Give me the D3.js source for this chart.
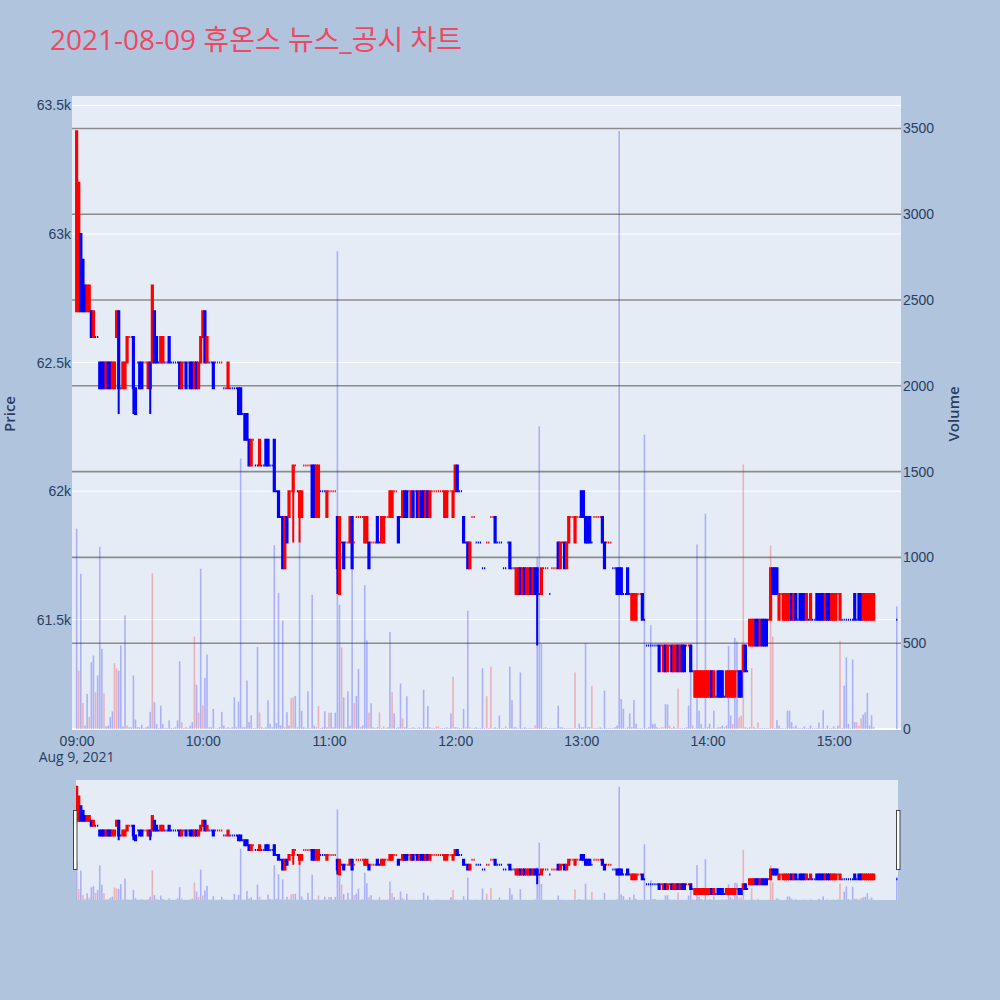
<!DOCTYPE html>
<html>
<head>
<meta charset="utf-8">
<script src="https://d3js.org/d3.v7.min.js"></script>
<style>
  body { margin: 0; background: #b0c4de; }
  svg { display: block; font-family: "Open Sans", "Noto Sans CJK KR", sans-serif; }
</style>
</head>
<body>
<script>
// one token per minute, prices in units of 100 won
// "open close" or "open close high low", a single price for a flat minute, "" for no trade
const candles0900 = [
  "627 634","627 632","630 627","629 627","628 627","627 628","627 628","627 626","626 627","626",
  "626","625 624","625 624","625 624","624 625","625 624","625 624","624 625","624 625","626 627",
  "627 624 627 623","624","624 625","624 625","625 626","626","626","626 624 626 623","624 623","625",
  "625 624","625 624","625","625","624 625","625 624 625 623","625 628","627 625","626 625","625",
  "625 626","625 626","625","625","626 625","625","625","625","625","625 624",
  "624 625","625","625 624","625","625 624","625 624","624 625","625 624","624 625","625 626"
];
const candles1000 = [
  "626 627","627 625","625 626","625","625","625 624","625","625","625","625",
  "624","624","624 625","624","624","624","624","624 623","624 623","623",
  "623 622","623 622","622 621","621 622","622","621","621","621 622","621","621",
  "622 621","622 621","621","621","622 620","620","620 619","619","619 617","617 619",
  "619 618","619 620","620","620 621 621 618","621","620","619 620 620 618","619 620","621","621",
  "621","621","621 619","621 619","619 621","619 621","620","620","620","619 620"
];
const candles1100 = [
  "620","620","620","620","619 617 619 616","616 619","618","618 617","618","618",
  "618 619","619 617","618","619","619","619","619","618 619","618 619","618 617",
  "618","618","618","619 618","618","618 619","618 619","619","619","619 620",
  "619 620","620","620","619 618","619","619 620","620 619","620 619","620","619 620",
  "620 619","620","620 619","619 620","620 619","620 619","619 620","620 619","619 620","620",
  "620","620","620","620","620","619 620","619 620","620","620","619 620"
];
const candles1200 = [
  "620 621","621 620","620","620","619 618","618","618 617","617 618","619","619",
  "618","618","618","617","617","618","618","619","619","619 618",
  "618","618","618","617","617","618","618 617","617","617","616 617",
  "616 617","617 616","616 617","617 616","616 617","616 617","617 616","616 617","617 616","617 616 617 614",
  "616","616 617","617","617","617","616","617","617","617","618 617",
  "617 618","618","618 617","617 618","618 619","619","619","618 619","619","619"
];
const candles1300 = [
  "620 619","620 619","619 618","619 618","619 618","618","619","619","619","619",
  "619 618","618 617","618","618","618","617","617","617 616","617 616","617 616",
  "616","616","617 616","616","615 616","615 616","615 616","616","616","616 615",
  "615","614","614","614","614","614","614","614 613","614","613 614",
  "614 613","613 614","614","614 613","613 614","613 614","614 613","613 614","614 613","614 613",
  "614","614","614 613","613","612 613","612 613","612 613","612 613","612 613","612 613"
];
const candles1400 = [
  "612 613","612 613","613 612","612 613","612","613 612","613 612","613 612","612","612 613",
  "612 613","612 613","612 613","612 613","613","613 612","613 612","613 614","614 613","613",
  "614 615","614 615","614 615","615 614","615 614","614 615","615 614","615 614","615 614","615",
  "615 617","617 616","617 616","617 616","615 616","616","615 616","615 616","615 616","615 616",
  "616 615","615 616","616 615","615","616 615","616 615","616 615","615 616","615","615 616",
  "615","615","616 615","616 615","616 615","616 615","615 616","616 615","616 615","615 616"
];
const candles1500 = [
  "615 616","615 616","616","615 616","615","615","615","615","615","615",
  "616 615","615","616 615","616 615","615 616","615 616","615 616","615 616","615 616","615 616",
  "","","","","","","","","","",
  "615"
];

// shares traded per minute
const volume0900 = [
  1167,340,904,152,20,204,70,389,428,214,
  311,1062,467,208,15,20,70,103,383,354,
  340,487,15,662,20,10,10,311,55,10,
  10,25,5,10,15,100,908,156,30,5,
  136,30,5,5,50,5,5,10,50,394,
  40,5,10,5,20,40,539,258,96,934
];
const volume1000 = [
  138,297,434,10,10,117,5,5,10,100,
  20,5,10,5,10,185,10,160,1577,10,
  10,282,40,80,5,5,478,97,10,5,
  10,168,30,10,1071,35,793,20,632,10,
  98,20,180,184,193,10,1157,106,10,5,
  219,5,782,20,10,134,5,10,103,10
];
const volume1100 = [
  95,95,10,95,2785,725,476,184,10,219,
  20,1079,150,193,350,10,20,838,516,95,
  150,10,5,10,97,5,15,5,10,565,
  214,91,5,10,265,62,10,191,5,5,
  10,5,5,10,5,228,10,134,10,5,
  5,15,15,5,5,5,10,5,91,304
];
const volume1200 = [
  10,10,5,5,117,10,690,10,5,5,
  10,5,5,354,5,191,5,364,5,10,
  5,78,5,5,15,5,364,168,10,10,
  5,330,5,10,5,5,5,5,20,1000,
  1764,496,5,10,5,5,5,5,5,136,
  10,10,5,5,5,5,5,330,5,30
];
const volume1300 = [
  10,10,500,10,10,252,5,5,5,10,
  5,224,5,5,5,5,10,20,3485,175,
  117,5,10,91,10,168,30,5,5,5,
  1716,5,10,605,30,30,10,5,10,10,
  145,143,20,5,15,5,236,5,5,5,
  10,136,492,20,5,1075,107,30,5,1255
];
const volume1400 = [
  10,30,5,107,5,10,10,20,10,20,
  484,78,30,531,510,68,78,1542,10,5,
  10,355,10,5,38,5,5,5,5,5,
  1069,538,5,53,20,5,5,5,107,107,
  40,10,20,5,5,5,15,5,5,20,
  5,5,5,38,5,110,5,20,5,5
];
const volume1500 = [
  15,5,20,514,5,253,418,30,5,405,
  40,40,20,62,84,97,210,20,80,10,
  0,0,0,0,0,0,0,0,0,0,
  715
];

// minutes (from 09:00) whose volume bar is drawn as buying (red)
const volumeUpMinutes = [
  1,3,6,9,13,18,19,24,36,50,56,58,60,66,87,99,102,103,115,120,
  126,132,139,144,146,150,155,171,172,179,185,187,195,197,204,218,237,245,278,279,
  282,286,293,308,312,315,316,317,321,324,330,331,363,371,372,373
];

const priceTicks = [61500, 62000, 62500, 63000, 63500];
const volumeTicks = [0, 500, 1000, 1500, 2000, 2500, 3000, 3500];
const hourTicks = [9, 10, 11, 12, 13, 14, 15];
const titleText = "2021-08-09 휴온스 뉴스_공시 차트";

const upColor = "#ff0000";
const downColor = "#0000ff";

// layout
let width = 1000, height = 1000;
let plotLeft = 72, plotRight = 901, plotTop = 96, plotBottom = 729;
let sliderLeft = 76, sliderRight = 898, sliderTop = 780, sliderBottom = 900;

let day = new Date(2021, 7, 9, 9, 0);

// build the minute rows
let tokens = [].concat(candles0900, candles1000, candles1100, candles1200, candles1300, candles1400, candles1500);
let volumes = [].concat(volume0900, volume1000, volume1100, volume1200, volume1300, volume1400, volume1500);
let upSet = new Set(volumeUpMinutes);

let data = [];
let prevClose = null, prevUp = true;
tokens.forEach(function (tok, i) {
    if (tok === "") return;
    let nums = tok.split(" ").map(function (d) { return +d * 100; });
    let o, c, h, l;
    if (nums.length === 1) {
        o = c = h = l = nums[0];
    } else {
        o = nums[0]; c = nums[1];
        h = nums.length > 2 ? nums[2] : Math.max(o, c);
        l = nums.length > 2 ? nums[3] : Math.min(o, c);
    }
    // flat minutes take their colour from the previous close, like plotly does
    let up;
    if (c > o) up = true;
    else if (c < o) up = false;
    else if (prevClose !== null && c !== prevClose) up = c > prevClose;
    else up = prevUp;
    data.push({
        t: new Date(day.getTime() + i * 60000),
        o: o, h: h, l: l, c: c, up: up,
        v: volumes[i], vUp: upSet.has(i)
    });
    prevClose = c; prevUp = up;
});

// scales
let x = d3.scaleTime()
    .domain([new Date(day.getTime() - 2.2 * 60000), new Date(day.getTime() + 392 * 60000)])
    .range([plotLeft, plotRight]);
let yPrice = d3.scaleLinear().domain([61075, 63537]).range([plotBottom, plotTop]);
let yVol = d3.scaleLinear().domain([0, 3689]).range([plotBottom, plotTop]);
let yPriceMini = d3.scaleLinear().domain(yPrice.domain()).range([sliderBottom, sliderTop]);
let yVolMini = d3.scaleLinear().domain(yVol.domain()).range([sliderBottom, sliderTop]);

let svg = d3.select("body").append("svg")
    .attr("width", width)
    .attr("height", height);

let defs = svg.append("defs");
defs.append("clipPath").attr("id", "clipMain")
    .append("rect")
    .attr("x", plotLeft).attr("y", plotTop)
    .attr("width", plotRight - plotLeft).attr("height", plotBottom - plotTop);
defs.append("clipPath").attr("id", "clipSlider")
    .append("rect")
    .attr("x", sliderLeft).attr("y", sliderTop)
    .attr("width", sliderRight - sliderLeft).attr("height", sliderBottom - sliderTop);

// title
svg.append("text")
    .attr("x", 50).attr("y", 50)
    .attr("fill", "#ee4962")
    .style("font-size", "28px")
    .text(titleText);

// plot background
svg.append("rect")
    .attr("x", plotLeft).attr("y", plotTop)
    .attr("width", plotRight - plotLeft).attr("height", plotBottom - plotTop)
    .attr("fill", "#e5ecf6");

// price grid (white) and volume grid (gray)
svg.append("g").selectAll("line").data(priceTicks).join("line")
    .attr("x1", plotLeft).attr("x2", plotRight)
    .attr("y1", function (d) { return yPrice(d); })
    .attr("y2", function (d) { return yPrice(d); })
    .attr("stroke", "#ffffff").attr("stroke-width", 1);

svg.append("g").selectAll("line").data(volumeTicks.filter(function (d) { return d > 0; })).join("line")
    .attr("x1", plotLeft).attr("x2", plotRight)
    .attr("y1", function (d) { return yVol(d); })
    .attr("y2", function (d) { return yVol(d); })
    .attr("stroke", "#8c8c8c").attr("stroke-width", 1.6);

svg.append("line")
    .attr("x1", plotLeft).attr("x2", plotRight)
    .attr("y1", yVol(0)).attr("y2", yVol(0))
    .attr("stroke", "#ffffff").attr("stroke-width", 2);

function candlePath(d, y) {
    let cx = x(d.t), w = 1.2;
    let yo = y(d.o), yc = y(d.c);
    let top = Math.min(yo, yc), bot = Math.max(yo, yc);
    return "M" + (cx - w / 2) + "," + top + "H" + (cx + w / 2) + "V" + bot + "H" + (cx - w / 2) + "Z" +
        "M" + cx + "," + y(d.h) + "V" + top + "M" + cx + "," + bot + "V" + y(d.l);
}

function drawTraces(g, yP, yV) {
    // volume bars
    g.append("g").selectAll("rect").data(data.filter(function (d) { return d.v > 0; })).join("rect")
        .attr("x", function (d) { return x(d.t) - 0.8; })
        .attr("width", 1.6)
        .attr("y", function (d) { return yV(d.v); })
        .attr("height", function (d) { return yV(0) - yV(d.v); })
        .attr("fill", function (d) { return d.vUp ? upColor : downColor; })
        .attr("fill-opacity", 0.25);

    // candles
    g.append("g").selectAll("path").data(data).join("path")
        .attr("d", function (d) { return candlePath(d, yP); })
        .attr("fill", function (d) { return d.up ? upColor : downColor; })
        .attr("fill-opacity", 0.5)
        .attr("stroke", function (d) { return d.up ? upColor : downColor; })
        .attr("stroke-width", 2);
}

drawTraces(svg.append("g").attr("clip-path", "url(#clipMain)"), yPrice, yVol);

// axes
let tickColor = "#2a3f5f";
let tickSize = "14px";

let xAxis = svg.append("g")
    .attr("transform", "translate(0," + plotBottom + ")")
    .call(d3.axisBottom(x)
        .tickValues(hourTicks.map(function (h) { return new Date(2021, 7, 9, h, 0); }))
        .tickFormat(d3.timeFormat("%H:%M"))
        .tickSize(0).tickPadding(7));
xAxis.select(".domain").remove();
xAxis.selectAll("text").attr("fill", tickColor).style("font-size", tickSize);

svg.append("text")
    .attr("x", x(day)).attr("y", 762)
    .attr("text-anchor", "middle")
    .attr("fill", tickColor)
    .style("font-size", tickSize)
    .text(d3.timeFormat("%b %-d, %Y")(day));

let yAxisLeft = svg.append("g")
    .attr("transform", "translate(" + plotLeft + ",0)")
    .call(d3.axisLeft(yPrice).tickValues(priceTicks).tickFormat(d3.format("~s")).tickSize(0).tickPadding(1));
yAxisLeft.select(".domain").remove();
yAxisLeft.selectAll("text").attr("fill", tickColor).style("font-size", tickSize);

let yAxisRight = svg.append("g")
    .attr("transform", "translate(" + plotRight + ",0)")
    .call(d3.axisRight(yVol).tickValues(volumeTicks).tickFormat(d3.format("d")).tickSize(0).tickPadding(2));
yAxisRight.select(".domain").remove();
yAxisRight.selectAll("text").attr("fill", tickColor).style("font-size", tickSize);

// axis titles
svg.append("text")
    .attr("transform", "translate(15,414) rotate(-90)")
    .attr("text-anchor", "middle")
    .attr("fill", tickColor)
    .style("font-size", "15px").style("font-weight", 600)
    .text("Price");

svg.append("text")
    .attr("transform", "translate(959,414) rotate(-90)")
    .attr("text-anchor", "middle")
    .attr("fill", tickColor)
    .style("font-size", "15px").style("font-weight", 600)
    .text("Volume");

// range slider
svg.append("rect")
    .attr("x", sliderLeft).attr("y", sliderTop)
    .attr("width", sliderRight - sliderLeft).attr("height", sliderBottom - sliderTop)
    .attr("fill", "#e5ecf6");

drawTraces(svg.append("g").attr("clip-path", "url(#clipSlider)"), yPriceMini, yVolMini);

[sliderLeft - 2.5, sliderRight - 1.5].forEach(function (hx) {
    svg.append("rect")
        .attr("x", hx).attr("y", 810.5)
        .attr("width", 3.5).attr("height", 59)
        .attr("fill", "#ffffff")
        .attr("stroke", "#444444").attr("stroke-width", 1);
});
</script>
</body>
</html>
